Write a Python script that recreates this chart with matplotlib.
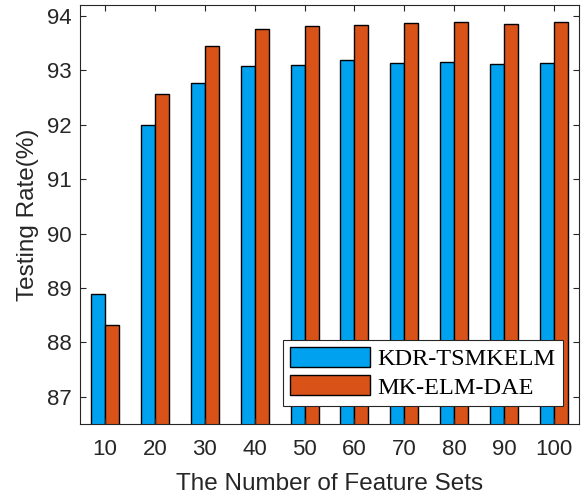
import matplotlib.pyplot as plt
import numpy as np

## datos
feature_sets = [10, 20, 30, 40, 50, 60, 70, 80, 90, 100]
kdr_tsmkelm = [88.89, 92.00, 92.77, 93.07, 93.09, 93.18, 93.13, 93.15, 93.12, 93.14]
mk_elm_dae = [88.32, 92.57, 93.45, 93.76, 93.81, 93.83, 93.86, 93.89, 93.85, 93.88]
series_names = ["KDR-TSMKELM", "MK-ELM-DAE"]

blue = "#00A2F0"
orange = "#D95319"
dark = "#262626"

plt.rcParams['font.family'] = ['Liberation Sans', 'DejaVu Sans']

fig = plt.figure(figsize=(5.87, 4.98), dpi=100)
ax = fig.add_axes([0.1363, 0.1486, 0.9864 - 0.1363, 0.99 - 0.1486])

x = np.array(feature_sets)
w = 2.8
ax.bar(x - w / 2, kdr_tsmkelm, w, color=blue, edgecolor="black", linewidth=1.0,
       label=series_names[0])
ax.bar(x + w / 2, mk_elm_dae, w, color=orange, edgecolor="black", linewidth=1.0,
       label=series_names[1])

ax.set_xlim(5, 105)
ax.set_ylim(86.5, 94.2)
ax.set_xticks(feature_sets)
ax.set_yticks([87, 88, 89, 90, 91, 92, 93, 94])

ax.tick_params(direction="in", length=4.5, width=0.8, top=True, right=True,
               labelsize=16, colors=dark)
ax.tick_params(axis="x", pad=11)
ax.tick_params(axis="y", pad=6)
for s in ax.spines.values():
    s.set_color(dark)
    s.set_linewidth(0.8)

ax.set_xlabel("The Number of Feature Sets", fontsize=17.5, color=dark, labelpad=9)
ax.set_ylabel("Testing Rate(%)", fontsize=17.5, color=dark, labelpad=6)

leg = ax.legend(loc="lower right", bbox_to_anchor=(0.968, 0.043), borderaxespad=0,
                prop={'family': 'Liberation Serif', 'size': 17.5}, fancybox=False,
                framealpha=1, edgecolor=dark, handlelength=3.3, handleheight=0.9,
                handletextpad=0.3, labelspacing=0.2, borderpad=0.3)
leg.get_frame().set_linewidth(0.8)

fig.savefig("out.png", dpi=100)
